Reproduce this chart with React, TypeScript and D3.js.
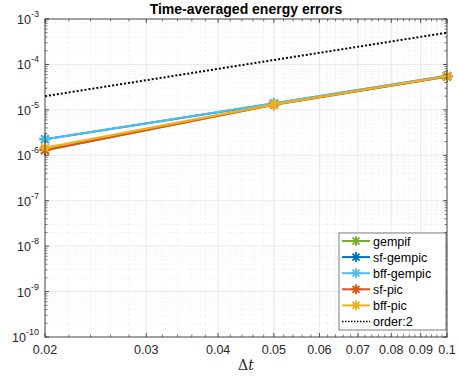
import React from "react";
import * as d3 from "d3";

const dts = [0.02, 0.05, 0.1];
const seriesNames = ["gempif", "sf-gempic", "bff-gempic", "sf-pic", "bff-pic"];
const seriesColors = ["#77AC30", "#0072BD", "#4DBEEE", "#D95319", "#EDB120"];
const gempif = [1.3e-6, 1.3e-5, 5.4e-5];
const sfGempic = [2.25e-6, 1.38e-5, 5.55e-5];
const bffGempic = [2.25e-6, 1.4e-5, 5.6e-5];
const sfPic = [1.3e-6, 1.3e-5, 5.45e-5];
const bffPic = [1.45e-6, 1.32e-5, 5.5e-5];
const orderDts = [0.02, 0.1];
const order2 = [2e-5, 5e-4];
const xTicks = [0.02, 0.03, 0.04, 0.05, 0.06, 0.07, 0.08, 0.09, 0.1];
const xTickLabels = ["0.02", "0.03", "0.04", "0.05", "0.06", "0.07", "0.08", "0.09", "0.1"];
const yExponents = [-3, -4, -5, -6, -7, -8, -9, -10];

const W = 458, H = 377;
const L = 45, R = 447, T = 19, B = 337;
const FONT = "'Liberation Sans', Arial, Helvetica, sans-serif";
const AX = "#262626";

function star(cx: number, cy: number, r: number) {
  const a = r * 0.7071;
  return `M${cx - r},${cy}L${cx + r},${cy}M${cx},${cy - r}L${cx},${cy + r}M${cx - a},${cy - a}L${cx + a},${cy + a}M${cx - a},${cy + a}L${cx + a},${cy - a}`;
}

export default function App() {
  const x = d3.scaleLog().domain([0.02, 0.1]).range([L, R]);
  const y = d3.scaleLog().domain([1e-10, 1e-3]).range([B, T]);
  const series = [gempif, sfGempic, bffGempic, sfPic, bffPic];

  const xMinor: number[] = [];
  for (let k = 20; k <= 100; k += 2) {
    if (k % 10 !== 0) xMinor.push(k / 1000);
  }
  const yMinor: number[] = [];
  for (let e = -10; e < -3; e++) {
    for (let m = 2; m <= 9; m++) yMinor.push(m * Math.pow(10, e));
  }
  const line = d3.line<[number, number]>().x(d => x(d[0])).y(d => y(d[1]));

  const legX = 339, legY = 233, legW = 107, legH = 97, rowH = 16.1;

  return (
    <svg width={W} height={H} style={{ position: "absolute", left: 0, top: 0, background: "#fff" }} fontFamily={FONT}>
      <rect x={0} y={0} width={W} height={H} fill="#fff" />
      {xMinor.map((v, i) => (
        <line key={"xm" + i} x1={x(v)} x2={x(v)} y1={T} y2={B} stroke="#e4e4e4" strokeWidth={0.6} strokeDasharray="1,1.5" />
      ))}
      {yMinor.map((v, i) => (
        <line key={"ym" + i} x1={L} x2={R} y1={y(v)} y2={y(v)} stroke="#e4e4e4" strokeWidth={0.6} strokeDasharray="1,1.5" />
      ))}
      {xTicks.map((v, i) => (
        <line key={"xg" + i} x1={x(v)} x2={x(v)} y1={T} y2={B} stroke="#e0e0e0" strokeWidth={0.7} />
      ))}
      {yExponents.map((e, i) => (
        <line key={"yg" + i} x1={L} x2={R} y1={y(Math.pow(10, e))} y2={y(Math.pow(10, e))} stroke="#e0e0e0" strokeWidth={0.7} />
      ))}
      <path d={line(orderDts.map((d, i) => [d, order2[i]] as [number, number])) || ""} fill="none" stroke="#000" strokeWidth={2} strokeDasharray="2,2" />
      {series.map((s, si) => (
        <g key={"s" + si}>
          <path d={line(dts.map((d, i) => [d, s[i]] as [number, number])) || ""} fill="none" stroke={seriesColors[si]} strokeWidth={2.2} />
          {dts.map((d, i) => (
            <path key={i} d={star(x(d), y(s[i]), 5.5)} stroke={seriesColors[si]} strokeWidth={2} fill="none" />
          ))}
        </g>
      ))}
      <rect x={L} y={T} width={R - L} height={B - T} fill="none" stroke={AX} strokeWidth={0.8} />
      {xTicks.map((v, i) => (
        <g key={"xt" + i}>
          <line x1={x(v)} x2={x(v)} y1={B} y2={B - 4} stroke={AX} strokeWidth={0.8} />
          <line x1={x(v)} x2={x(v)} y1={T} y2={T + 4} stroke={AX} strokeWidth={0.8} />
          <text x={x(v)} y={B + 17} textAnchor="middle" fontSize={12.5} fill={AX}>{xTickLabels[i]}</text>
        </g>
      ))}
      {xMinor.map((v, i) => (
        <g key={"xmt" + i}>
          <line x1={x(v)} x2={x(v)} y1={B} y2={B - 2.5} stroke={AX} strokeWidth={0.6} />
          <line x1={x(v)} x2={x(v)} y1={T} y2={T + 2.5} stroke={AX} strokeWidth={0.6} />
        </g>
      ))}
      {yMinor.map((v, i) => (
        <g key={"ymt" + i}>
          <line x1={L} x2={L + 2.5} y1={y(v)} y2={y(v)} stroke={AX} strokeWidth={0.6} />
          <line x1={R} x2={R - 2.5} y1={y(v)} y2={y(v)} stroke={AX} strokeWidth={0.6} />
        </g>
      ))}
      {yExponents.map((e, i) => {
        const yy = y(Math.pow(10, e));
        return (
          <g key={"yt" + i}>
            <line x1={L} x2={L + 4} y1={yy} y2={yy} stroke={AX} strokeWidth={0.8} />
            <line x1={R} x2={R - 4} y1={yy} y2={yy} stroke={AX} strokeWidth={0.8} />
            <text x={39} y={yy + 5} textAnchor="end" fontSize={12.5} fill={AX}>
              <tspan>10</tspan>
              <tspan dy={-7} fontSize={9}>{String(e)}</tspan>
            </text>
          </g>
        );
      })}
      <text x={(L + R) / 2} y={14} textAnchor="middle" fontSize={14} fontWeight="bold" fill="#000">Time-averaged energy errors</text>
      <text x={(L + R) / 2} y={370} textAnchor="middle" fontSize={14} fill={AX} fontFamily="'DejaVu Serif', 'Liberation Serif', serif">
        <tspan>Δ</tspan><tspan fontStyle="italic">t</tspan>
      </text>
      <rect x={legX} y={legY} width={legW} height={legH} fill="#fff" stroke={AX} strokeWidth={0.6} />
      {seriesNames.map((n, i) => {
        const yy = legY + 8 + i * rowH;
        return (
          <g key={"lg" + i}>
            <line x1={342} x2={370} y1={yy} y2={yy} stroke={seriesColors[i]} strokeWidth={2} />
            <path d={star(356, yy, 5)} stroke={seriesColors[i]} strokeWidth={1.8} fill="none" />
            <text x={373} y={yy + 4.5} fontSize={12.5} fill="#000">{n}</text>
          </g>
        );
      })}
      {(() => {
        const yy = legY + 8 + 5 * rowH;
        return (
          <g>
            <line x1={342} x2={370} y1={yy} y2={yy} stroke="#000" strokeWidth={1.5} strokeDasharray="1.5,1.5" />
            <text x={373} y={yy + 4.5} fontSize={12.5} fill="#000">order:2</text>
          </g>
        );
      })()}
    </svg>
  );
}
